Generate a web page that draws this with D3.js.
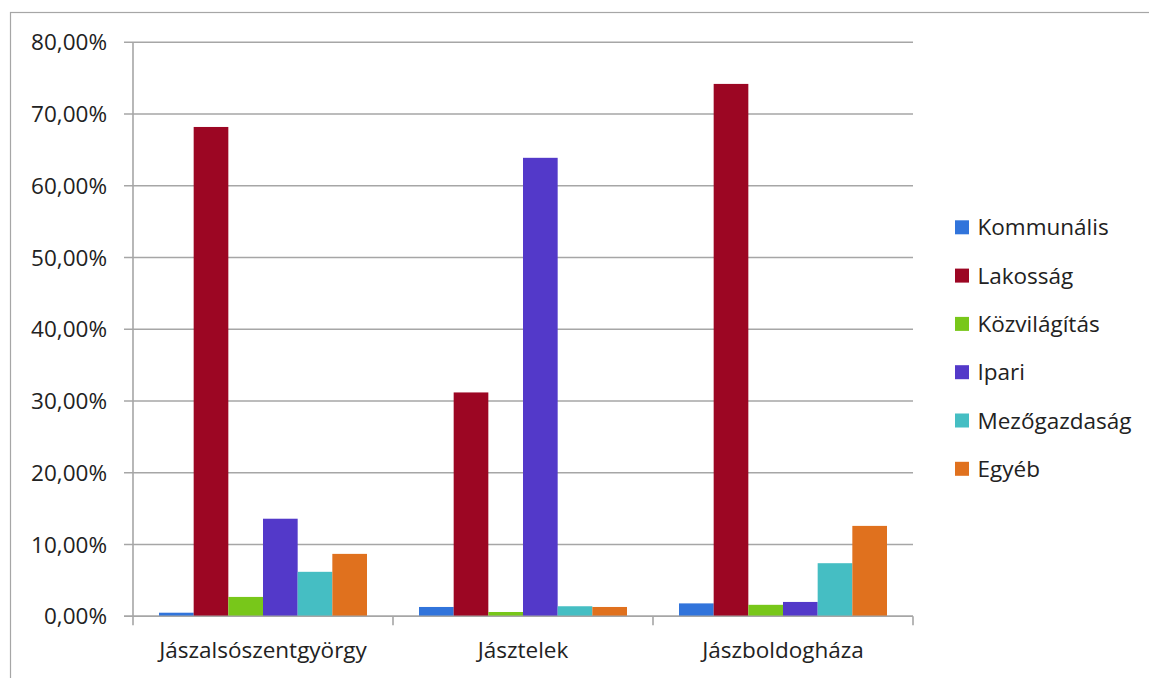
<!DOCTYPE html>
<html>
<head>
<meta charset="utf-8">
<script src="https://cdn.jsdelivr.net/npm/d3@7"></script>
<style>
  html, body { margin: 0; padding: 0; background: #fff; }
  svg { display: block; }
  text { font-family: "Open Sans", "Noto Sans", sans-serif; fill: #222; }
</style>
</head>
<body>
<svg id="chart" width="1149" height="678"></svg>
<script>
// Settlements on the category axis
const categories = ["Jászalsószentgyörgy", "Jásztelek", "Jászboldogháza"];

// Consumer groups (legend order) and their colours
const seriesNames = ["Kommunális", "Lakosság", "Közvilágítás", "Ipari", "Mezőgazdaság", "Egyéb"];
const seriesColors = ["#3174DB", "#9C0623", "#78C71A", "#5339C9", "#45BEC3", "#E0711E"];

// Share of consumption per group, percent, one value per settlement
const kommunalis   = [0.5, 1.3, 1.8];
const lakossag     = [68.2, 31.2, 74.2];
const kozvilagitas = [2.7, 0.6, 1.6];
const ipari        = [13.6, 63.9, 2.0];
const mezogazdasag = [6.2, 1.4, 7.4];
const egyeb        = [8.7, 1.3, 12.6];

// Value axis ticks
const yTicks = [0, 10, 20, 30, 40, 50, 60, 70, 80];

const seriesValues = [kommunalis, lakossag, kozvilagitas, ipari, mezogazdasag, egyeb];

const huLocale = d3.formatLocale({ decimal: ",", thousands: " ", grouping: [3], currency: ["", " Ft"], percent: "%" });
const fmtPct = huLocale.format(".2%");

const svg = d3.select("#chart");
const W = 1149, H = 678;
const plot = { left: 133, right: 913, top: 42.3, bottom: 616.3 };

// Outer chart frame
svg.append("rect")
  .attr("x", 10.5).attr("y", 12.5)
  .attr("width", W + 10).attr("height", H + 10)
  .attr("fill", "none").attr("stroke", "#a6a6a6").attr("stroke-width", 1.2);

const x0 = d3.scaleBand().domain(categories).range([plot.left, plot.right]).padding(0);
const x1 = d3.scaleBand().domain(seriesNames)
  .range([x0.bandwidth() * 0.1, x0.bandwidth() * 0.9]).padding(0);
const y = d3.scaleLinear().domain([0, 80]).range([plot.bottom, plot.top]);

// Horizontal gridlines
svg.append("g")
  .selectAll("line")
  .data(yTicks)
  .join("line")
  .attr("x1", plot.left - 9).attr("x2", plot.right)
  .attr("y1", d => y(d)).attr("y2", d => y(d))
  .attr("stroke", "#a6a6a6").attr("stroke-width", 1.6);

// Value axis line
svg.append("line")
  .attr("x1", plot.left).attr("x2", plot.left)
  .attr("y1", plot.top).attr("y2", plot.bottom)
  .attr("stroke", "#a6a6a6").attr("stroke-width", 1.6);

// Value axis labels
svg.append("g")
  .selectAll("text")
  .data(yTicks)
  .join("text")
  .attr("x", plot.left - 26)
  .attr("y", d => y(d))
  .attr("dy", "0.36em")
  .attr("text-anchor", "end")
  .style("font-size", "22.5px")
  .text(d => fmtPct(d / 100));

// Category axis: tick marks at band boundaries
const boundaries = categories.map(c => x0(c)).concat([x0(categories[categories.length - 1]) + x0.bandwidth()]);
svg.append("g")
  .selectAll("line")
  .data(boundaries)
  .join("line")
  .attr("x1", d => d).attr("x2", d => d)
  .attr("y1", plot.bottom).attr("y2", plot.bottom + 9)
  .attr("stroke", "#a6a6a6").attr("stroke-width", 1.6);

// Category labels
svg.append("g")
  .selectAll("text")
  .data(categories)
  .join("text")
  .attr("x", d => x0(d) + x0.bandwidth() / 2)
  .attr("y", 658)
  .attr("text-anchor", "middle")
  .style("font-size", "22.5px")
  .text(d => d);

// Bars
const groups = svg.append("g")
  .selectAll("g")
  .data(categories)
  .join("g")
  .attr("transform", d => `translate(${x0(d)},0)`);

groups.selectAll("rect")
  .data((c, ci) => seriesNames.map((s, si) => ({ s, si, v: seriesValues[si][ci] })))
  .join("rect")
  .attr("x", d => x1(d.s))
  .attr("width", x1.bandwidth())
  .attr("y", d => y(d.v))
  .attr("height", d => y(0) - y(d.v))
  .attr("fill", d => seriesColors[d.si]);

// Redraw the baseline over the bar bottoms
svg.append("line")
  .attr("x1", plot.left - 9).attr("x2", plot.right)
  .attr("y1", y(0)).attr("y2", y(0))
  .attr("stroke", "#a6a6a6").attr("stroke-width", 1.6);

// Legend
const legend = svg.append("g")
  .selectAll("g")
  .data(seriesNames)
  .join("g")
  .attr("transform", (d, i) => `translate(955, ${227.3 + i * 48.3})`);

legend.append("rect")
  .attr("x", 0).attr("y", -7)
  .attr("width", 14).attr("height", 14)
  .attr("fill", (d, i) => seriesColors[i]);

legend.append("text")
  .attr("x", 22.5)
  .attr("dy", "0.36em")
  .style("font-size", "22.5px")
  .text(d => d);
</script>
</body>
</html>
